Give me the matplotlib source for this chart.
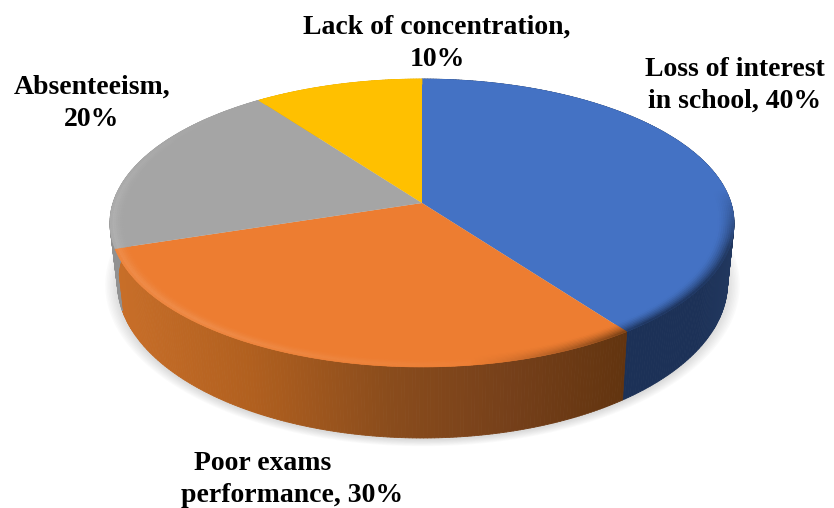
import numpy as np
import matplotlib
matplotlib.use("Agg")
import matplotlib.pyplot as plt
from matplotlib.collections import PolyCollection
from matplotlib.colors import to_rgb

# data, clockwise from 12 o'clock
categories = ["Loss of interest in school", "Poor exams performance", "Absenteeism", "Lack of concentration"]
shares = [40, 30, 20, 10]
top_colors = ["#4472c4", "#ed7d31", "#a5a5a5", "#ffc000"]
label_lines = [
    ("Lack of concentration,", 437, 27), ("10%", 437, 59),
    ("Loss of interest", 735, 69), ("in school, 40%", 735, 101),
    ("Absenteeism,", 92, 87), ("20%", 92, 119),
    ("Poor exams", 263, 464), ("performance, 30%", 292, 496),
]

# perspective of the disc, in pixels
cx, cy = 422, 203
a, b, k = 309, 141.2, 0.139


def project(r, th):
    # th clockwise from the top
    x = r * np.sin(th)
    y = r * np.cos(th)
    w = 1 + k * y
    return cx + a * x / w, cy - b * y / w


def lower(px, py):
    # bottom edge of the wall from a point on the top edge
    return 422 + (px - 421.5) * 305 / 312, 283 + (py - 223) * 155 / 144


def mix(c1, c2, t):
    c1, c2 = np.array(to_rgb(c1)), np.array(to_rgb(c2))
    return tuple(c1 + (c2 - c1) * t)


def wall_color(i, x):
    if i == 0:
        return to_rgb("#1c3157") if x < 700 else mix("#1c3157", "#22385f", (x - 700) / 35)
    if i == 1:
        xs = [110, 250, 390, 510, 630]
        vals = np.array([to_rgb(c) for c in ["#c96f29", "#b1601f", "#8a4c1c", "#76401a", "#62340f"]])
        return tuple(np.interp(x, xs, vals[:, n]) for n in range(3))
    return mix(top_colors[i], "#000000", 0.12)


fig = plt.figure(figsize=(8.34, 5.08), dpi=100)
ax = fig.add_axes([0, 0, 1, 1])
ax.set_xlim(0, 834)
ax.set_ylim(508, 0)
ax.axis("off")

edges = np.cumsum([0] + shares) / sum(shares) * 2 * np.pi

# soft shadow under the disc
full = np.linspace(0, 2 * np.pi, 240)
px, py = project(1, full)
sx, sy = lower(px, py)
for grow in np.linspace(1.04, 1.0, 9):
    ax.fill(422 + (sx - 422) * grow, 285 + (sy - 283) * grow, color="#7f7f7f", alpha=0.03, lw=0, zorder=1)

# side wall
for i in range(len(shares)):
    th = np.linspace(edges[i], edges[i + 1], int(shares[i] * 6) + 2)
    xt, yt = project(1, th)
    xb, yb = lower(xt, yt)
    polys, cols = [], []
    for j in range(len(th) - 1):
        polys.append([(xt[j], yt[j]), (xt[j + 1], yt[j + 1]), (xb[j + 1], yb[j + 1]), (xb[j], yb[j])])
        cols.append(wall_color(i, xt[j]))
    ax.add_collection(PolyCollection(polys, facecolors=cols, edgecolors=cols, linewidths=0.6, zorder=2))

# top face
for i in range(len(shares)):
    th = np.linspace(edges[i], edges[i + 1], int(shares[i] * 6) + 2)
    xt, yt = project(1, th)
    ax.fill(np.r_[cx, xt], np.r_[cy, yt], color=top_colors[i], lw=0, zorder=3)

# bevel on the rim: light on the left, dark on the right
radii = np.linspace(0.95, 1.0, 9)
for i in range(len(shares)):
    th = np.linspace(edges[i], edges[i + 1], int(shares[i] * 5) + 2)
    polys, cols = [], []
    for n in range(len(radii) - 1):
        for j in range(len(th) - 1):
            x0, y0 = project(radii[n], th[j])
            x1, y1 = project(radii[n], th[j + 1])
            x2, y2 = project(radii[n + 1], th[j + 1])
            x3, y3 = project(radii[n + 1], th[j])
            sn, cs = np.sin(th[j]), np.cos(th[j])
            t = (n + 0.5) / (len(radii) - 1)
            if sn > 0.15:
                # right side falls off into the dark wall
                front = np.clip((0.1 - cs) / 0.4, 0, 1)
                dark = t ** 1.5 * front * np.clip((sn - 0.15) / 0.5, 0, 1)
                base = mix(top_colors[i], wall_color(i, x0), min(1, dark))
            else:
                front = np.clip((0.75 - cs) / 0.7, 0, 1)
                glow = (t ** 2) * (1 - t ** 8) * front * np.clip(0.35 - sn, 0, 1)
                base = mix(top_colors[i], "#ffffff", 0.22 * glow)
            polys.append([(x0, y0), (x1, y1), (x2, y2), (x3, y3)])
            cols.append(base)
    ax.add_collection(PolyCollection(polys, facecolors=cols, edgecolors=cols, linewidths=0.4, zorder=4))

for text, x, y in label_lines:
    ax.text(x, y, text, ha="center", va="center", family="Liberation Serif", fontweight="bold",
            fontsize=20, color="black", zorder=5)

fig.savefig("out.png", dpi=100)
